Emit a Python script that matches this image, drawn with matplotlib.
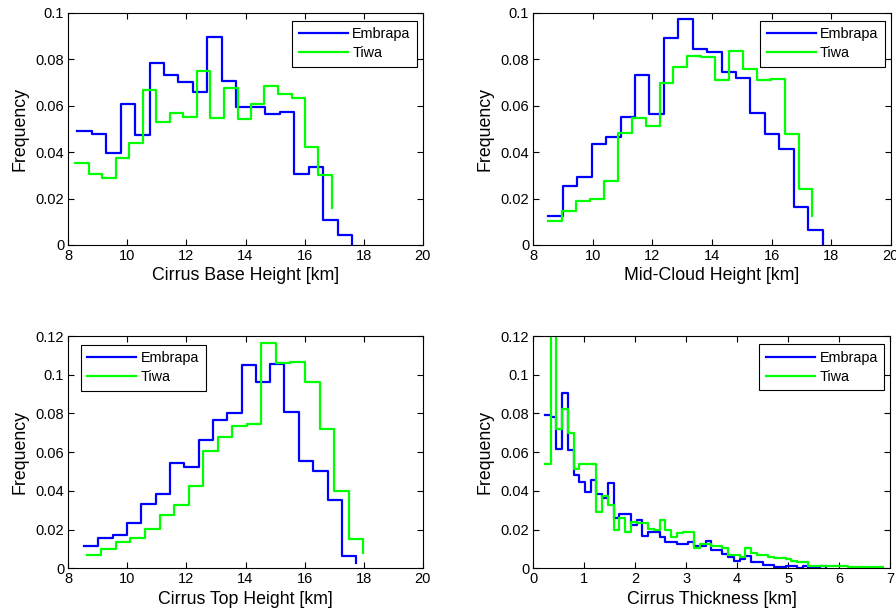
import numpy as np
import matplotlib
matplotlib.use('Agg')
import matplotlib.pyplot as plt
from matplotlib.ticker import FuncFormatter

plt.rcParams['font.family'] = ['Liberation Sans', 'DejaVu Sans']

# --- cirrus base height histograms (bin start [km], frequency) ---
base_km_embrapa = [8.30, 8.79, 9.28, 9.77, 10.26, 10.75, 11.24, 11.73, 12.22, 12.71,
                   13.20, 13.69, 14.18, 14.67, 15.16, 15.65, 16.14, 16.63, 17.12, 17.61]
base_freq_embrapa = [0.049, 0.0476, 0.0397, 0.0605, 0.0472, 0.0782, 0.0733, 0.0703, 0.066, 0.0897,
                     0.0706, 0.0593, 0.0593, 0.0562, 0.0574, 0.0306, 0.0337, 0.0108, 0.0043, 0.0]
base_km_tiwa = [8.23, 8.69, 9.15, 9.60, 10.06, 10.52, 10.98, 11.44, 11.89, 12.35,
                12.81, 13.27, 13.73, 14.18, 14.64, 15.10, 15.56, 16.02, 16.47, 16.93]
base_freq_tiwa = [0.0351, 0.0306, 0.029, 0.0373, 0.0438, 0.0667, 0.0531, 0.057, 0.0552, 0.0749,
                  0.0545, 0.0677, 0.0542, 0.0605, 0.0684, 0.0648, 0.0631, 0.0423, 0.0301, 0.0158]

# --- mid-cloud height ---
mid_km_embrapa = [8.50, 8.99, 9.47, 9.96, 10.44, 10.93, 11.41, 11.90, 12.38, 12.87,
                  13.35, 13.84, 14.32, 14.81, 15.29, 15.78, 16.26, 16.75, 17.23, 17.72]
mid_freq_embrapa = [0.0123, 0.0255, 0.0291, 0.0433, 0.0465, 0.0551, 0.0733, 0.0566, 0.0892, 0.0971,
                    0.0844, 0.083, 0.0746, 0.0719, 0.0567, 0.0479, 0.0414, 0.0162, 0.0065, 0.0]
mid_km_tiwa = [8.50, 8.97, 9.43, 9.90, 10.37, 10.84, 11.30, 11.77, 12.24, 12.70,
               13.17, 13.64, 14.10, 14.57, 15.04, 15.51, 15.97, 16.44, 16.91, 17.37]
mid_freq_tiwa = [0.0104, 0.0147, 0.019, 0.0198, 0.0274, 0.0483, 0.0545, 0.0512, 0.0696, 0.0768,
                 0.0815, 0.0808, 0.071, 0.0837, 0.0758, 0.071, 0.0714, 0.0476, 0.0241, 0.0126]

# --- cirrus top height ---
top_km_embrapa = [8.53, 9.02, 9.50, 9.99, 10.47, 10.96, 11.44, 11.93, 12.41, 12.90,
                  13.38, 13.87, 14.35, 14.84, 15.32, 15.81, 16.29, 16.78, 17.26, 17.75]
top_freq_embrapa = [0.0115, 0.0158, 0.0172, 0.0232, 0.0331, 0.0382, 0.0546, 0.0522, 0.0663, 0.0766,
                    0.0801, 0.105, 0.0964, 0.1055, 0.0809, 0.0554, 0.0504, 0.0353, 0.0065, 0.0026]
top_km_tiwa = [8.62, 9.11, 9.61, 10.10, 10.59, 11.09, 11.58, 12.07, 12.56, 13.06,
               13.55, 14.04, 14.54, 15.03, 15.52, 16.02, 16.51, 17.00, 17.49, 17.99]
top_freq_tiwa = [0.0067, 0.0102, 0.0134, 0.0158, 0.0201, 0.0275, 0.0327, 0.0427, 0.0606, 0.068,
                 0.0737, 0.0744, 0.1162, 0.1062, 0.1067, 0.0961, 0.072, 0.0399, 0.0152, 0.0077]

# --- cirrus geometrical thickness ---
thick_km = [0.23, 0.34, 0.45, 0.57, 0.68, 0.79, 0.90, 1.02, 1.13, 1.24,
            1.35, 1.47, 1.58, 1.69, 1.80, 1.92, 2.03, 2.14, 2.25, 2.37,
            2.48, 2.59, 2.70, 2.82, 2.93, 3.04, 3.15, 3.27, 3.38, 3.49,
            3.60, 3.71, 3.83, 3.94, 4.05, 4.16, 4.28, 4.39, 4.50, 4.61,
            4.73, 4.84, 4.95, 5.06, 5.18, 5.29, 5.40, 5.51, 5.63, 5.74,
            5.85, 5.96, 6.07, 6.18, 6.30, 6.41, 6.52, 6.63, 6.74, 6.86]
thick_freq_embrapa = [0.079, 0.078, 0.0616, 0.0904, 0.061, 0.0482, 0.0448, 0.0393, 0.0456, 0.0382,
                      0.0362, 0.0443, 0.0259, 0.028, 0.028, 0.0224, 0.025, 0.0167, 0.019, 0.019,
                      0.0164, 0.0138, 0.0138, 0.0126, 0.0126, 0.0138, 0.0117, 0.0117, 0.0141, 0.0095,
                      0.0095, 0.0074, 0.0057, 0.0038, 0.0047, 0.0064, 0.0034, 0.0034, 0.0017, 0.0017,
                      0.0005, 0.0005, 0.001, 0.0012, 0.0003, 0.001, 0.0003, 0.0003, 0.001, 0.0]
thick_freq_tiwa = [0.054, 0.13, 0.0718, 0.0821, 0.0697, 0.0511, 0.0539, 0.0539, 0.0539, 0.0293,
                   0.0374, 0.0327, 0.0198, 0.026, 0.019, 0.024, 0.0232, 0.0232, 0.0205, 0.02,
                   0.025, 0.02, 0.0164, 0.018, 0.019, 0.019, 0.0103, 0.0126, 0.0126, 0.0115,
                   0.0115, 0.0103, 0.0069, 0.0069, 0.006, 0.0103, 0.0078, 0.0069, 0.0069, 0.006,
                   0.0052, 0.0052, 0.0048, 0.0038, 0.0031, 0.0031, 0.0012, 0.0014, 0.0014, 0.0014,
                   0.0014, 0.0014, 0.0014, 0.0005, 0.0005, 0.0005, 0.0009, 0.0006, 0.0006, 0.0006]

W, H = 896, 614
fig = plt.figure(figsize=(W / 100, H / 100), dpi=100)


def px_axes(x0, y0, x1, y1):
    return fig.add_axes([x0 / W, 1 - y1 / H, (x1 - x0) / W, (y1 - y0) / H])


panels = [
    (px_axes(68.3, 12.7, 422.7, 245.0), 'Cirrus Base Height [km]',
     (base_km_embrapa, base_freq_embrapa), (base_km_tiwa, base_freq_tiwa),
     (8, 20), np.arange(8, 21, 2), (0, 0.1), 'upper right'),
    (px_axes(533.3, 12.7, 890.7, 245.0), 'Mid-Cloud Height [km]',
     (mid_km_embrapa, mid_freq_embrapa), (mid_km_tiwa, mid_freq_tiwa),
     (8, 20), np.arange(8, 21, 2), (0, 0.1), 'upper right'),
    (px_axes(68.3, 336.0, 422.7, 568.3), 'Cirrus Top Height [km]',
     (top_km_embrapa, top_freq_embrapa), (top_km_tiwa, top_freq_tiwa),
     (8, 20), np.arange(8, 21, 2), (0, 0.12), 'upper left'),
    (px_axes(533.3, 336.0, 890.0, 568.3), 'Cirrus Thickness [km]',
     (thick_km[:len(thick_freq_embrapa)], thick_freq_embrapa), (thick_km, thick_freq_tiwa),
     (0, 7), np.arange(0, 8, 1), (0, 0.12), 'upper right'),
]

fmt = FuncFormatter(lambda v, pos: ('%.2f' % v).rstrip('0').rstrip('.') if v else '0')

for ax, xlabel, emb, tiw, xlim, xticks, ylim, loc in panels:
    ax.step(emb[0], emb[1], where='post', color=(0, 0, 1), lw=1.6, label='Embrapa')
    ax.step(tiw[0], tiw[1], where='post', color=(0, 1, 0), lw=1.6, label='Tiwa')
    ax.set_xlim(*xlim)
    ax.set_ylim(*ylim)
    ax.set_xticks(xticks)
    ax.set_yticks(np.arange(0, ylim[1] + 1e-9, 0.02))
    ax.yaxis.set_major_formatter(fmt)
    ax.tick_params(direction='in', top=True, right=True, length=4, width=0.8,
                   labelsize=10.5, pad=3)
    for sp in ax.spines.values():
        sp.set_linewidth(0.8)
    ax.set_xlabel(xlabel, fontsize=12.8, labelpad=3)
    ax.set_ylabel('Frequency', fontsize=12.8, labelpad=5)
    if loc == 'upper left':
        anchor = (0.035, 0.962)
    else:
        anchor = (0.984, 0.965)
    leg = ax.legend(loc=loc, bbox_to_anchor=anchor, fontsize=10.4, handlelength=3.4,
                    handletextpad=0.3, labelspacing=0.35, borderpad=0.45,
                    borderaxespad=0, fancybox=False, framealpha=1, edgecolor='black')
    leg.get_frame().set_linewidth(0.8)

fig.savefig('out.png', dpi=100)
